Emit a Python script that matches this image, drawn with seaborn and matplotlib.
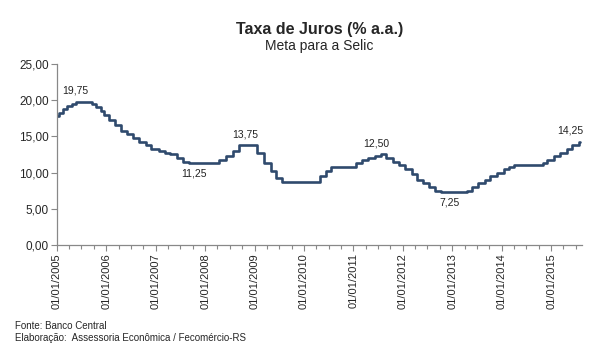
"""
Taxa de Juros - Meta para a Selic (2005-2015)
"""

import pandas as pd
import matplotlib.pyplot as plt
import matplotlib.dates as mdates
from matplotlib.ticker import FuncFormatter
import seaborn as sns

# Copom decisions (meta Selic, % a.a.) as drawn in the chart
dates = [
    '2005-01-01', '2005-01-19', '2005-02-16', '2005-03-16', '2005-04-20', '2005-05-18',
    '2005-09-14', '2005-10-19', '2005-11-23', '2005-12-14',
    '2006-01-18', '2006-03-08', '2006-04-19', '2006-05-31', '2006-07-19', '2006-08-30',
    '2006-10-18', '2006-11-29',
    '2007-01-24', '2007-03-07', '2007-04-18', '2007-06-06', '2007-07-18', '2007-09-05',
    '2008-04-16', '2008-06-04', '2008-07-23', '2008-09-10',
    '2009-01-21', '2009-03-11', '2009-04-29', '2009-06-10', '2009-07-22',
    '2010-04-28', '2010-06-09', '2010-07-21',
    '2011-01-19', '2011-03-02', '2011-04-20', '2011-06-08', '2011-07-20', '2011-08-31',
    '2011-10-19', '2011-11-30',
    '2012-01-18', '2012-03-07', '2012-04-18', '2012-05-30', '2012-07-11', '2012-08-29',
    '2012-10-10',
    '2013-04-17', '2013-05-29', '2013-07-10', '2013-08-28', '2013-10-09', '2013-11-27',
    '2014-01-15', '2014-02-26', '2014-04-02', '2014-10-29', '2014-12-03',
    '2015-01-21', '2015-03-04', '2015-04-29', '2015-06-03', '2015-07-29', '2015-08-03',
]
rates = [
    17.75, 18.25, 18.75, 19.25, 19.50, 19.75,
    19.50, 19.00, 18.50, 18.00,
    17.25, 16.50, 15.75, 15.25, 14.75, 14.25,
    13.75, 13.25,
    13.00, 12.75, 12.50, 12.00, 11.50, 11.25,
    11.75, 12.25, 13.00, 13.75,
    12.75, 11.25, 10.25, 9.25, 8.75,
    9.50, 10.25, 10.75,
    11.25, 11.75, 12.00, 12.25, 12.50, 12.00,
    11.50, 11.00,
    10.50, 9.75, 9.00, 8.50, 8.00, 7.50,
    7.25,
    7.50, 8.00, 8.50, 9.00, 9.50, 10.00,
    10.50, 10.75, 11.00, 11.25, 11.75,
    12.25, 12.75, 13.25, 13.75, 14.25, 14.25,
]

# highlighted values
label_dates = ['2005-05-18', '2007-10-10', '2008-10-25', '2011-06-20', '2012-12-10', '2015-05-20']
label_values = [19.75, 11.25, 13.75, 12.50, 7.25, 14.25]
label_above = [True, False, True, True, False, True]

year_ticks = [f'{y}-01-01' for y in range(2005, 2016)]


def br(v, pos=None):
    return f'{v:.2f}'.replace('.', ',')


def plot_selic():
    df = pd.DataFrame({'Data': pd.to_datetime(dates), 'Selic': rates})

    sns.set_style('white')
    plt.rcParams['font.family'] = ['Liberation Sans', 'DejaVu Sans']

    fig, ax = plt.subplots(figsize=(6.06, 3.57), dpi=100)
    fig.subplots_adjust(left=0.094, right=0.960, top=0.821, bottom=0.314)

    sns.lineplot(data=df, x='Data', y='Selic', ax=ax, drawstyle='steps-post',
                 color='#2F4A6D', linewidth=1.9)

    for d, v, up in zip(label_dates, label_values, label_above):
        ax.annotate(br(v), (pd.Timestamp(d), v), xytext=(0, 11 if up else -10),
                    textcoords='offset pixels', ha='center', va='center',
                    fontsize=7.5, color='#222222')

    ax.set_ylim(0, 25)
    ax.set_xlim(pd.Timestamp('2005-01-01'), pd.Timestamp('2015-08-15'))
    ax.set_yticks([0, 5, 10, 15, 20, 25])
    ax.yaxis.set_major_formatter(FuncFormatter(br))

    ax.set_xticks(pd.to_datetime(year_ticks))
    ax.xaxis.set_major_formatter(mdates.DateFormatter('%d/%m/%Y'))
    ax.xaxis.set_minor_locator(mdates.MonthLocator(bymonth=[4, 7, 10]))
    plt.setp(ax.get_xticklabels(), rotation=90)

    ax.tick_params(axis='both', which='major', labelsize=8, length=4, width=0.8,
                   color='#888888', direction='out', pad=2, bottom=True, left=True)
    ax.tick_params(axis='x', which='minor', length=3, width=0.8, color='#888888',
                   direction='out', bottom=True)
    ax.tick_params(axis='y', labelsize=8.5)

    ax.set_xlabel('')
    ax.set_ylabel('')
    sns.despine(ax=ax)
    for s in ['left', 'bottom']:
        ax.spines[s].set_color('#888888')
        ax.spines[s].set_linewidth(0.9)

    fig.text(0.527, 0.918, 'Taxa de Juros (% a.a.)', ha='center', va='center',
             fontsize=11.5, fontweight='bold')
    fig.text(0.527, 0.870, 'Meta para a Selic', ha='center', va='center', fontsize=10)

    fig.text(0.025, 0.088, 'Fonte: Banco Central', ha='left', va='center', fontsize=7)
    fig.text(0.025, 0.053, 'Elaboração:  Assessoria Econômica / Fecomércio-RS',
             ha='left', va='center', fontsize=7)

    fig.savefig('out.png', dpi=100)


if __name__ == '__main__':
    plot_selic()
